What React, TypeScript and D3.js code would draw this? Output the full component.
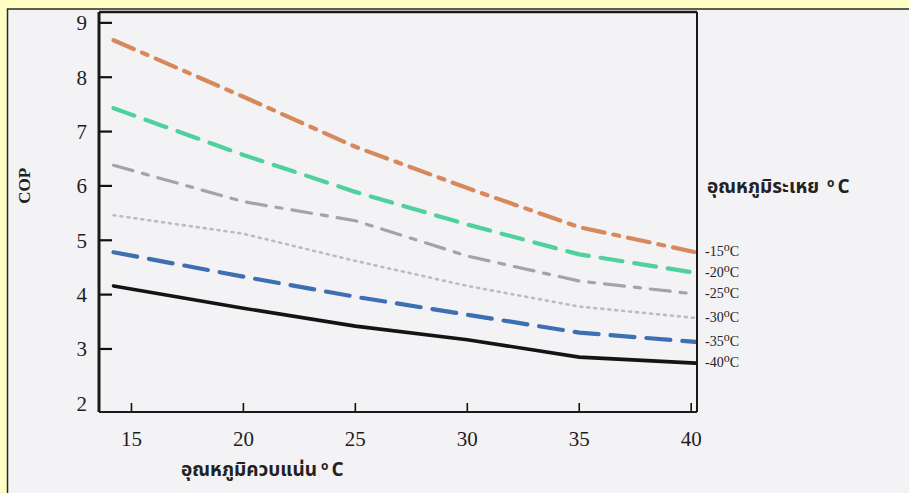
import React from 'react'
import * as d3 from 'd3'

const W = 909
const H = 493

// condenser temperature (deg C) at which the curves were read
const condTemps = [14.2, 20, 25, 30, 35, 40.2]
const xTicks = [15, 20, 25, 30, 35, 40]
const yTicks = [2, 3, 4, 5, 6, 7, 8, 9]

// evaporator temperature labels
const evapLabels = ['-15', '-20', '-25', '-30', '-35', '-40']

// COP for each evaporator temperature
const copM15 = [8.68, 7.64, 6.72, 5.96, 5.24, 4.78]
const copM20 = [7.43, 6.57, 5.89, 5.29, 4.74, 4.40]
const copM25 = [6.38, 5.71, 5.36, 4.71, 4.25, 4.01]
const copM30 = [5.46, 5.12, 4.62, 4.16, 3.78, 3.57]
const copM35 = [4.78, 4.33, 3.96, 3.63, 3.30, 3.13]
const copM40 = [4.16, 3.75, 3.42, 3.17, 2.85, 2.74]

const seriesValues = [copM15, copM20, copM25, copM30, copM35, copM40]

const styles = [
  { color: '#d8895c', width: 4.2, dash: '22,9,6,9' },
  { color: '#4fd09c', width: 4.2, dash: '22,12' },
  { color: '#a4a4a6', width: 3.2, dash: '20,10,6,10' },
  { color: '#bdbdc0', width: 2.6, dash: '2,5' },
  { color: '#3d6fb2', width: 4.2, dash: '24,12' },
  { color: '#141414', width: 3.6, dash: 'none' },
]

const frame = { left: 99, right: 697, top: 12, bottom: 412 }
const serif = '"Liberation Serif", "Times New Roman", serif'
const thaiFont = 'Tahoma, "Noto Sans Thai", "Noto Sans", "DejaVu Sans", sans-serif'

export default function App() {
  const xScale = d3.scaleLinear()
    .domain([13.55, 40.26])
    .range([frame.left, frame.right])

  const yScale = d3.scaleLinear()
    .domain([1.84, 9.2])
    .range([frame.bottom, frame.top])

  const line = d3.line<number>()
    .x((d, i) => xScale(condTemps[i]))
    .y(d => yScale(d))

  return (
    <svg width={W} height={H} style={{ position: 'absolute', left: 0, top: 0 }}>
      <rect x={0} y={0} width={W} height={H} fill='#ffffc4' />
      <rect x={7.5} y={9} width={W + 10} height={H + 10} fill='#f3f2f4' stroke='#2a2a2a' strokeWidth={1.5} />

      {/* curves */}
      {seriesValues.map((vals, i) => (
        <path
          key={'s-' + i}
          d={line(vals) || ''}
          fill='none'
          stroke={styles[i].color}
          strokeWidth={styles[i].width}
          strokeDasharray={styles[i].dash}
          strokeLinecap='round'
        />
      ))}

      {/* frame */}
      <line x1={frame.left} y1={frame.top} x2={frame.right} y2={frame.top} stroke='#1a1a1a' strokeWidth={2.5} />
      <line x1={frame.left} y1={frame.top} x2={frame.left} y2={frame.bottom} stroke='#1a1a1a' strokeWidth={3} />
      <line x1={frame.right} y1={frame.top} x2={frame.right} y2={frame.bottom} stroke='#1a1a1a' strokeWidth={2} />
      <line x1={frame.left} y1={frame.bottom} x2={frame.right} y2={frame.bottom} stroke='#1a1a1a' strokeWidth={2} />

      {/* x axis */}
      {xTicks.map(t => (
        <g key={'xt-' + t} transform={'translate(' + xScale(t) + ',' + frame.bottom + ')'}>
          <line y1={0} y2={-9} stroke='#111' strokeWidth={1.6} />
          <text y={34} textAnchor='middle' fontFamily={serif} fontSize={21} fill='#1e1e1e'>{t}</text>
        </g>
      ))}

      {/* y axis */}
      {yTicks.map(t => (
        <g key={'yt-' + t} transform={'translate(' + frame.left + ',' + yScale(t) + ')'}>
          {t !== 2 && <line x1={0} x2={13} stroke='#111' strokeWidth={2.2} />}
          <text x={-12} dy='0.35em' textAnchor='end' fontFamily={serif} fontSize={21} fill='#1e1e1e'>{t}</text>
        </g>
      ))}

      {/* series labels at line ends */}
      {evapLabels.map((lab, i) => {
        const vals = seriesValues[i]
        return (
          <text
            key={'l-' + i}
            x={frame.right + 8}
            y={yScale(vals[vals.length - 1]) + 4}
            fontFamily={serif}
            fontSize={14}
            fill='#222'
          >
            {lab}
            <tspan dy={-5} fontSize={12}>o</tspan>
            <tspan dy={5}>C</tspan>
          </text>
        )
      })}

      <text x={707} y={193} fontFamily={thaiFont} fontWeight='bold' fontSize={19} fill='#222'>
        อุณหภูมิระเหย
        <tspan dx={8} dy={-6} fontSize={12}>o</tspan>
        <tspan dx={3} dy={6}>C</tspan>
      </text>

      <text x={181} y={476} fontFamily={thaiFont} fontWeight='bold' fontSize={19} fill='#222'>
        อุณหภูมิควบแน่น
        <tspan dx={4} dy={-6} fontSize={12}>o</tspan>
        <tspan dx={3} dy={6}>C</tspan>
      </text>

      <text
        transform={'translate(30,' + yScale(6) + ') rotate(-90)'}
        textAnchor='middle'
        fontFamily={serif}
        fontWeight='bold'
        fontSize={17}
        fill='#222'
      >
        COP
      </text>
    </svg>
  )
}
